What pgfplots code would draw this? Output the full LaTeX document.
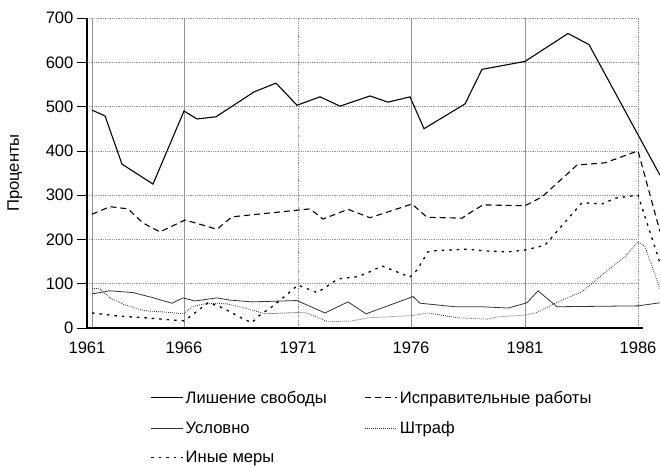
\documentclass[border=0pt]{standalone}
\usepackage{fontspec}
\setmainfont{Liberation Sans}
\usepackage{pgfplots}
\pgfplotsset{compat=1.18}
\pgfplotsset{legend image code/.code={\draw[#1] (0pt,0pt) -- (32pt,0pt);}}
\begin{document}
\begin{tikzpicture}[x=1pt,y=1pt,font=\fontsize{16.6}{19}\selectfont]
\useasboundingbox (0,0) rectangle (660,467);
\begin{axis}[
  at={(87pt,139pt)}, anchor=south west, scale only axis,
  width=573pt, height=310pt,
  xmin=87, xmax=660, ymin=0, ymax=700,
  clip=false,
  axis line style={draw=none},
  xtick={87,184,298,411,525,638},
  xticklabels={1961,1966,1971,1976,1981,1986},
  ytick={0,100,200,300,400,500,600,700},
  ytick pos=left, tick align=outside, major tick length=10pt,
  xtick style={draw=none}, ytick style={black, line width=0.6pt},
  /pgf/number format/assume math mode=true,
  ylabel={Проценты},
  ylabel style={at={(axis description cs:-0.1257,0.5)}, anchor=center},
  legend columns=2,
  legend cell align=left,
  legend style={draw=none, fill=none, at={(axis description cs:0.105,-0.190)}, anchor=north west,
    row sep=12.5pt,
    /tikz/every even column/.append style={column sep=36pt}},
]
% grid
\pgfplotsinvokeforeach{100,200,300,400,500,600,700}{
  \draw[gray!85, line width=0.6pt, dash pattern=on 0.8pt off 1pt] (axis cs:87,#1) -- (axis cs:638,#1);
}
\pgfplotsinvokeforeach{92,184,411,525}{
  \draw[gray!85, line width=0.6pt] (axis cs:#1,0) -- (axis cs:#1,700);
}
\pgfplotsinvokeforeach{298,638}{
  \draw[gray!85, line width=0.6pt, dash pattern=on 0.8pt off 1pt] (axis cs:#1,0) -- (axis cs:#1,700);
}
\draw[black, line width=1.4pt] (axis cs:87,0) -- (axis cs:87,700);
\draw[black, line width=1.4pt] (axis cs:87,0) -- (axis cs:643,0);

\addplot[black, line width=1.1pt] coordinates {
(92,492) (105,479) (122,370) (153,325) (184,490) (197,472) (216,477) (254,533) (276,553) (297,503) (320,522) (340,501) (370,524) (388,510) (410,522) (424,450) (465,506) (482,584) (525,602) (568,665) (589,640) (660,345)
};
\addlegendentry{Лишение свободы}
\addplot[black, line width=1.1pt, dash pattern=on 6pt off 4pt] coordinates {
(92,257) (110,274) (128,269) (143,237) (160,217) (185,244) (217,223) (232,251) (297,266) (310,269) (323,246) (348,268) (370,249) (412,280) (427,250) (462,248) (472,263) (483,278) (525,276) (542,296) (577,368) (605,373) (638,400) (660,218)
};
\addlegendentry{Исправительные работы}
\addplot[black!80, line width=0.8pt] coordinates {
(92,77) (110,84) (133,80) (152,69) (172,56) (183,68) (195,61) (217,68) (230,63) (252,59) (297,62) (325,34) (348,59) (366,32) (413,71) (420,56) (455,48) (482,48) (508,45) (527,57) (538,84) (557,48) (638,50) (660,57)
};
\addlegendentry{Условно}
\addplot[black!80, line width=0.8pt, dash pattern=on 0.8pt off 1.2pt] coordinates {
(92,90) (100,88) (110,68) (125,52) (145,39) (165,36) (184,32) (192,48) (203,54) (218,56) (228,54) (245,45) (265,32) (297,35) (307,34) (328,14) (352,16) (368,23) (412,28) (428,34) (458,23) (488,20) (497,25) (510,27) (525,29) (537,35) (555,56) (582,82) (608,131) (625,161) (638,195) (645,184) (660,88)
};
\addlegendentry{Штраф}
\addplot[black, line width=1.3pt, dash pattern=on 2.5pt off 5pt] coordinates {
(92,34) (118,27) (145,23) (184,16) (192,29) (208,57) (218,50) (228,39) (242,22) (252,12) (258,26) (272,48) (285,72) (298,97) (308,88) (317,80) (325,91) (338,111) (358,116) (368,125) (382,140) (400,124) (410,115) (417,131) (428,172) (437,175) (468,178) (485,174) (508,172) (525,176) (545,187) (558,221) (582,283) (602,280) (615,293) (638,300) (660,147)
};
\addlegendentry{Иные меры}
\end{axis}
\end{tikzpicture}
\end{document}
